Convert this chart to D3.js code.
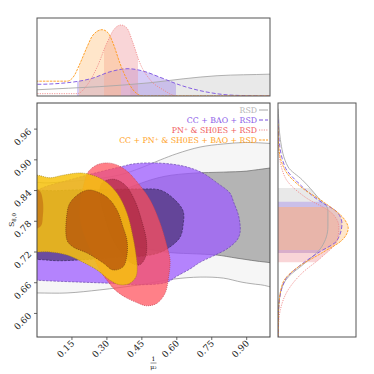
<!DOCTYPE html>
<html>
<head>
<meta charset="UTF-8">
<script src="https://cdnjs.cloudflare.com/ajax/libs/d3/7.8.5/d3.min.js"></script>
<style>
  body { margin: 0; background: #fff; }
  text { font-family: "DejaVu Serif", "Liberation Serif", serif; }
</style>
</head>
<body>
<div id="chart"></div>
<script>
// axis ticks
const xTicks = [0.15, 0.30, 0.45, 0.60, 0.75, 0.90];
const yTicks = [0.60, 0.66, 0.72, 0.78, 0.84, 0.90, 0.96];

// legend
const names = ['RSD', 'CC + BAO + RSD', 'PN\u207A & SH0ES + RSD', 'CC + PN\u207A & SH0ES + BAO + RSD'];

// 2D contours [1/mu2, S8,0], 95% and 68%
const rsd95 = [[1.1,0.93],[1.0,0.932],[0.90,0.934],[0.80,0.931],[0.70,0.925],[0.60,0.912],[0.53,0.90],[0.45,0.885],[0.35,0.870],[0.20,0.860],[0.05,0.855],[-0.1,0.85],
  [-0.1,0.64],[0.0,0.640],[0.129,0.640],[0.27,0.646],[0.442,0.656],[0.584,0.667],[0.70,0.671],[0.80,0.669],[0.88,0.661],[0.96,0.656],[1.1,0.652]];
const rsd68 = [[1.1,0.886],[1.0,0.884],[0.90,0.878],[0.80,0.876],[0.67,0.874],[0.55,0.868],[0.45,0.855],[0.35,0.835],[0.28,0.80],
  [0.30,0.76],[0.40,0.735],[0.55,0.72],[0.70,0.716],[0.773,0.714],[0.858,0.708],[0.987,0.700],[1.1,0.698]];
const cc95 = [[-0.1,0.80],[0.0,0.84],[0.15,0.862],[0.30,0.88],[0.356,0.886],[0.412,0.892],[0.485,0.894],[0.571,0.892],[0.644,0.886],[0.712,0.874],[0.773,0.855],[0.828,0.835],[0.845,0.816],[0.862,0.796],[0.871,0.776],[0.871,0.757],[0.858,0.743],[0.815,0.726],[0.755,0.712],[0.700,0.700],[0.657,0.687],[0.601,0.673],[0.558,0.661],[0.442,0.656],[0.313,0.659],[0.197,0.661],[0.086,0.663],[0.0,0.665],[-0.1,0.67]];
const cc68 = [[-0.1,0.72],[-0.1,0.83],[0.1,0.84],[0.3,0.842],[0.442,0.843],[0.528,0.841],[0.584,0.825],[0.627,0.80],[0.627,0.773],[0.614,0.749],[0.571,0.730],[0.52,0.718],[0.45,0.712],[0.35,0.71],[0.2,0.705],[0.05,0.704]];
const pn95 = [[0.219,0.876],[0.257,0.890],[0.300,0.894],[0.343,0.890],[0.386,0.878],[0.429,0.857],[0.485,0.822],[0.528,0.777],[0.558,0.731],[0.571,0.704],[0.564,0.669],[0.55,0.640],[0.515,0.620],[0.470,0.615],[0.430,0.621],[0.386,0.630],[0.335,0.646],[0.300,0.665],[0.270,0.685],[0.240,0.714],[0.206,0.749],[0.185,0.783],[0.185,0.816],[0.20,0.85]];
const pn68 = [[0.28,0.855],[0.33,0.862],[0.38,0.85],[0.42,0.82],[0.45,0.78],[0.47,0.74],[0.465,0.71],[0.44,0.695],[0.40,0.70],[0.36,0.72],[0.32,0.75],[0.29,0.79],[0.27,0.83]];
const all95 = [[-0.1,0.87],[0.0,0.870],[0.056,0.865],[0.112,0.870],[0.197,0.874],[0.283,0.861],[0.343,0.835],[0.386,0.796],[0.412,0.749],[0.425,0.714],[0.43,0.69],[0.425,0.672],[0.399,0.659],[0.356,0.656],[0.313,0.665],[0.257,0.685],[0.197,0.700],[0.129,0.714],[0.056,0.72],[0.0,0.72],[-0.1,0.72]];
const all68 = [[0.227,0.841],[0.300,0.827],[0.343,0.802],[0.369,0.769],[0.386,0.743],[0.386,0.714],[0.369,0.691],[0.326,0.685],[0.283,0.699],[0.215,0.718],[0.155,0.730],[0.129,0.743],[0.129,0.796],[0.142,0.816],[0.185,0.835]];
const all68b = [[-0.05,0.845],[0.01,0.84],[0.025,0.82],[0.025,0.79],[0.015,0.77],[-0.05,0.765]];

// 1D marginals of 1/mu2 [x, density]
const rsdTop = [[-0.05,0.07],[0.0,0.08],[0.27,0.12],[0.485,0.17],[0.627,0.22],[0.773,0.26],[1.0,0.28],[1.05,0.285]];
const ccTop = [[-0.05,0.15],[0.0,0.15],[0.129,0.17],[0.240,0.23],[0.313,0.31],[0.391,0.35],[0.455,0.32],[0.528,0.24],[0.614,0.14],[0.730,0.05],[0.841,0.01],[1.0,0.0],[1.05,0.0]];
const pnTop = [[-0.05,0.03],[0.0,0.03],[0.172,0.03],[0.215,0.14],[0.258,0.37],[0.300,0.68],[0.335,0.87],[0.361,0.91],[0.386,0.87],[0.412,0.68],[0.442,0.42],[0.485,0.21],[0.541,0.08],[0.601,0.0],[1.05,0.0]];
const allTop = [[-0.05,0.19],[0.0,0.19],[0.129,0.19],[0.155,0.24],[0.185,0.42],[0.215,0.63],[0.240,0.78],[0.279,0.85],[0.305,0.81],[0.326,0.68],[0.356,0.42],[0.386,0.21],[0.412,0.08],[0.455,0.0],[1.05,0.0]];
const topBands = [[0.40, 1.05], [0.172, 0.597], [0.288, 0.433], [0.180, 0.361]];

// 1D marginals of S8,0 [S8,0, density]
const rsdRight = [[1.0,0],[0.99,0.005],[0.94,0.03],[0.886,0.13],[0.861,0.31],[0.827,0.51],[0.802,0.64],[0.769,0.64],[0.730,0.56],[0.699,0.35],[0.671,0.13],[0.640,0.03],[0.593,0.003],[0.55,0]];
const ccRight = [[0.98,0],[0.945,0.01],[0.886,0.09],[0.855,0.26],[0.822,0.51],[0.796,0.77],[0.775,0.82],[0.743,0.76],[0.718,0.51],[0.691,0.26],[0.665,0.09],[0.613,0.01],[0.55,0]];
const pnRight = [[0.96,0],[0.919,0.01],[0.866,0.09],[0.827,0.35],[0.796,0.69],[0.769,0.78],[0.743,0.76],[0.710,0.56],[0.679,0.31],[0.646,0.13],[0.607,0.03],[0.574,0.005],[0.55,0]];
const allRight = [[0.97,0],[0.925,0.01],[0.880,0.09],[0.845,0.31],[0.816,0.60],[0.782,0.86],[0.767,0.90],[0.743,0.82],[0.718,0.56],[0.691,0.26],[0.659,0.06],[0.613,0.01],[0.55,0]];
const rightBands = [[0.718, 0.845], [0.718, 0.818], [0.700, 0.808], [0.724, 0.808]];

const lineCol = ['#a8a8a8', '#7a50e0', '#f08a8a', '#ff9a1a'];
const textCol = ['#b4b4b4', '#8a5ae8', '#f05a5a', '#ffa21e'];
const bandCol = ['#c8c8c8', '#9b7fe8', '#f0959b', '#ffc07a'];
const dash = [null, '4,2', '1.2,1.2', '2.5,1'];

const W = 374, H = 374;
const L = 37, R = 270, T = 103, B = 337;
const topT = 18, topB = 96;
const rL = 278, rR = 356;

const svg = d3.select('#chart').append('svg').attr('width', W).attr('height', H);

const x = d3.scaleLinear().domain([0, 1.0]).range([L, R]);
const y = d3.scaleLinear().domain([0.554, 1.011]).range([B, T]);
const yTop = d3.scaleLinear().domain([0, 1]).range([topB, topT]);
const xRight = d3.scaleLinear().domain([0, 1]).range([rL, rR]);

const defs = svg.append('defs');
function clip(id, x0, y0, w, h) {
  defs.append('clipPath').attr('id', id).append('rect').attr('x', x0).attr('y', y0).attr('width', w).attr('height', h);
}
clip('cMain', L, T, R - L, B - T);
clip('cTop', L, topT, R - L, topB - topT);
clip('cRight', rL, T, rR - rL, B - T);

// ---- main panel
const closed = d3.line().x(d => x(d[0])).y(d => y(d[1])).curve(d3.curveCatmullRomClosed.alpha(0.5));
const gMain = svg.append('g').attr('clip-path', 'url(#cMain)');

const contours = [
  { d: rsd95, fill: '#f6f6f6', op: 1, stroke: '#8c8c8c', dash: null },
  { d: rsd68, fill: '#b4b4b4', op: 1, stroke: '#666', dash: null },
  { d: cc95, fill: '#9e5cff', op: 0.75, stroke: '#6a48b0', dash: '2.5,1.2' },
  { d: cc68, fill: '#3a2862', op: 0.6, stroke: '#3a2a60', dash: '2.5,1.2' },
  { d: pn95, fill: '#ff4f5a', op: 0.72, stroke: '#c04050', dash: '1,1' },
  { d: pn68, fill: '#9a1830', op: 0.5, stroke: '#802030', dash: '1,1' },
  { d: all95, fill: '#f7c20c', op: 0.85, stroke: '#a08010', dash: '1,1' },
  { d: all68, fill: '#b4520a', op: 0.75, stroke: '#704010', dash: '1,1' },
  { d: all68b, fill: '#b4520a', op: 0.45, stroke: 'none', dash: null }
];
contours.forEach(c => {
  gMain.append('path').attr('d', closed(c.d))
    .attr('fill', c.fill).attr('fill-opacity', c.op)
    .attr('stroke', c.stroke).attr('stroke-width', 0.7)
    .attr('stroke-dasharray', c.dash);
});

svg.append('rect').attr('x', L).attr('y', T).attr('width', R - L).attr('height', B - T)
  .attr('fill', 'none').attr('stroke', '#444').attr('stroke-width', 1);

// ticks and labels
const tickFont = 9;
xTicks.forEach(t => {
  svg.append('line').attr('x1', x(t)).attr('x2', x(t)).attr('y1', B).attr('y2', B + 3).attr('stroke', '#444').attr('stroke-width', 0.8);
  svg.append('text').attr('transform', `translate(${x(t) + 3},${B + 7}) rotate(-45)`)
    .attr('text-anchor', 'end').attr('font-size', tickFont).attr('fill', '#222').text(t.toFixed(2));
});
yTicks.forEach(t => {
  svg.append('line').attr('x1', L - 3).attr('x2', L).attr('y1', y(t)).attr('y2', y(t)).attr('stroke', '#444').attr('stroke-width', 0.8);
  svg.append('text').attr('transform', `translate(${L - 5},${y(t) + 3}) rotate(-45)`)
    .attr('text-anchor', 'end').attr('font-size', tickFont).attr('fill', '#222').text(t.toFixed(2));
});

// axis labels
const xl = svg.append('g').attr('transform', `translate(${(L + R) / 2},0)`);
xl.append('text').attr('x', 0).attr('y', 361).attr('text-anchor', 'middle').attr('font-size', 6).text('1');
xl.append('line').attr('x1', -3).attr('x2', 3).attr('y1', 363).attr('y2', 363).attr('stroke', '#222').attr('stroke-width', 0.5);
xl.append('text').attr('x', 0).attr('y', 369).attr('text-anchor', 'middle').attr('font-size', 6).text('\u03BC\u2082');

const yl = svg.append('text').attr('transform', `translate(14,${(T + B) / 2}) rotate(-90)`)
  .attr('text-anchor', 'middle').attr('font-size', 8).attr('fill', '#222');
yl.append('tspan').text('S');
yl.append('tspan').attr('font-size', 5.5).attr('dy', 2).text('8,0');

// legend
names.forEach((n, i) => {
  const ly = 113 + i * 10;
  svg.append('text').attr('x', 257).attr('y', ly).attr('text-anchor', 'end')
    .attr('font-size', 7.8).attr('fill', textCol[i]).text(n);
  svg.append('line').attr('x1', 259).attr('x2', 268).attr('y1', ly - 3).attr('y2', ly - 3)
    .attr('stroke', lineCol[i]).attr('stroke-width', 1).attr('stroke-dasharray', dash[i]);
});

// ---- top panel
const gTop = svg.append('g').attr('clip-path', 'url(#cTop)');
const topSeries = [rsdTop, ccTop, pnTop, allTop];
const areaTop = d3.area().x(d => x(d[0])).y0(yTop(0)).y1(d => yTop(d[1])).curve(d3.curveMonotoneX);
const lineTop = d3.line().x(d => x(d[0])).y(d => yTop(d[1])).curve(d3.curveMonotoneX);
topSeries.forEach((s, i) => {
  const id = 'tb' + i;
  clip(id, x(topBands[i][0]), topT, x(topBands[i][1]) - x(topBands[i][0]), topB - topT);
  gTop.append('g').attr('clip-path', `url(#${id})`).append('path').attr('d', areaTop(s))
    .attr('fill', bandCol[i]).attr('fill-opacity', 0.4);
});
topSeries.forEach((s, i) => {
  gTop.append('path').attr('d', lineTop(s)).attr('fill', 'none')
    .attr('stroke', lineCol[i]).attr('stroke-width', 0.9).attr('stroke-dasharray', dash[i]);
});
svg.append('rect').attr('x', L).attr('y', topT).attr('width', R - L).attr('height', topB - topT)
  .attr('fill', 'none').attr('stroke', '#555').attr('stroke-width', 1);

// ---- right panel
const gRight = svg.append('g').attr('clip-path', 'url(#cRight)');
const rightSeries = [rsdRight, ccRight, pnRight, allRight];
const areaRight = d3.area().y(d => y(d[0])).x0(xRight(0)).x1(d => xRight(d[1])).curve(d3.curveMonotoneY);
const lineRight = d3.line().y(d => y(d[0])).x(d => xRight(d[1])).curve(d3.curveMonotoneY);
rightSeries.forEach((s, i) => {
  const id = 'rb' + i;
  clip(id, rL, y(rightBands[i][1]), rR - rL, y(rightBands[i][0]) - y(rightBands[i][1]));
  gRight.append('g').attr('clip-path', `url(#${id})`).append('path').attr('d', areaRight(s.slice().reverse()))
    .attr('fill', bandCol[i]).attr('fill-opacity', 0.4);
});
rightSeries.forEach((s, i) => {
  gRight.append('path').attr('d', lineRight(s.slice().reverse())).attr('fill', 'none')
    .attr('stroke', lineCol[i]).attr('stroke-width', 0.9).attr('stroke-dasharray', dash[i]);
});
svg.append('rect').attr('x', rL).attr('y', T).attr('width', rR - rL).attr('height', B - T)
  .attr('fill', 'none').attr('stroke', '#555').attr('stroke-width', 1);
</script>
</body>
</html>
